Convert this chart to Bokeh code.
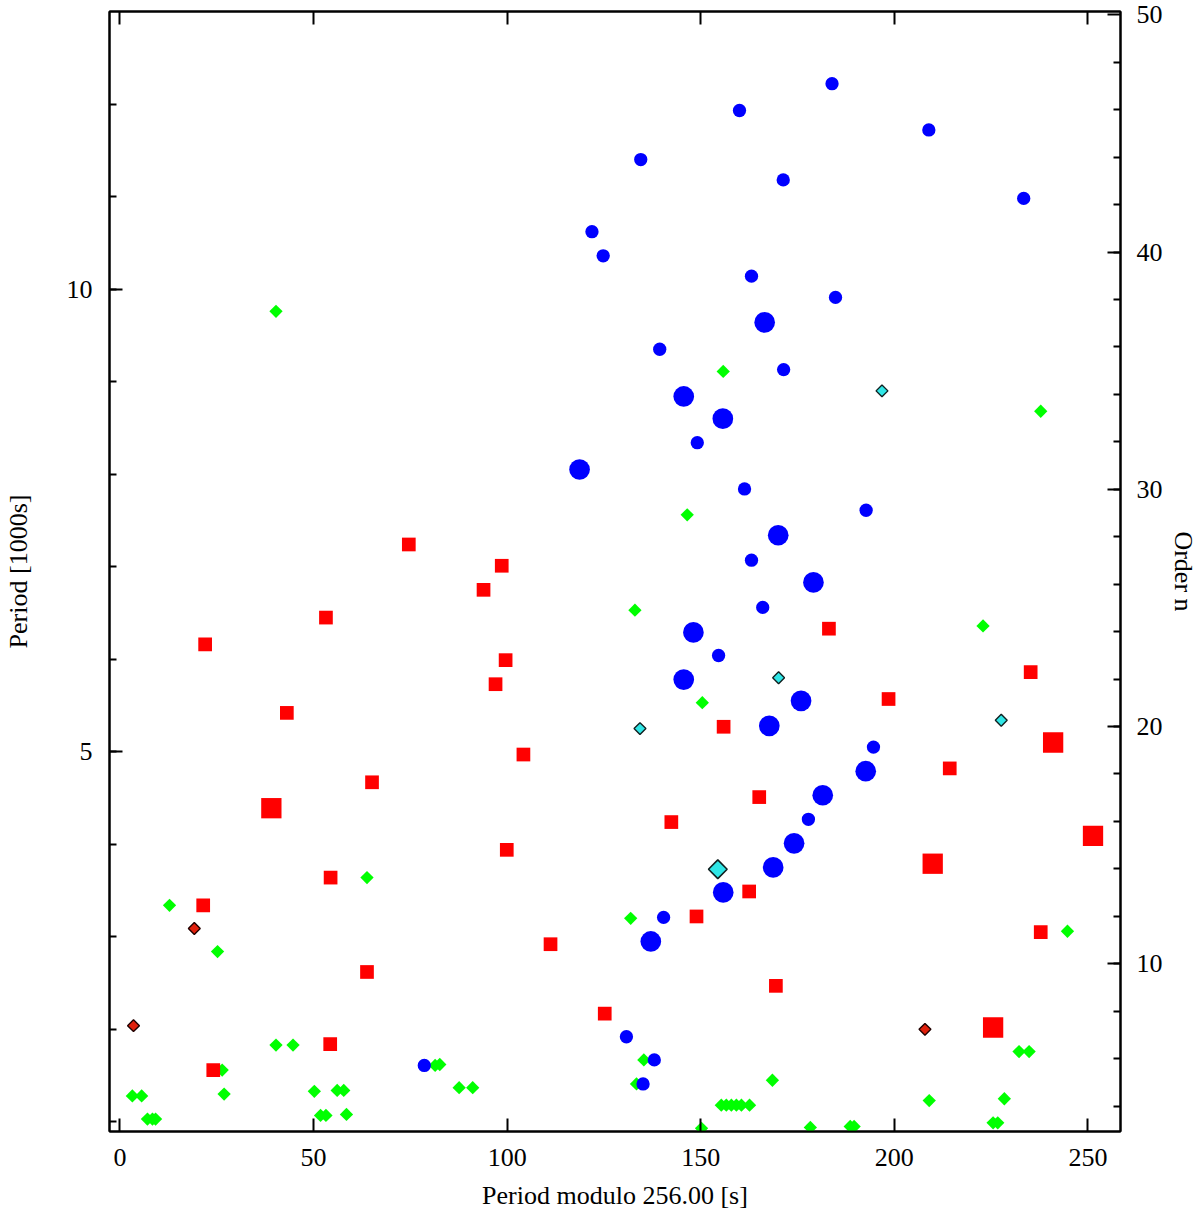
import numpy as np
from bokeh.plotting import figure
from bokeh.models import Range1d, LinearAxis, FixedTicker
from bokeh.embed import file_html
from bokeh.resources import INLINE

# ---------------- data (x: period modulo 256 s, y: period in 1000 s) ----------------
blue_small_x = [160.0, 134.5, 171.3, 121.9, 124.8, 163.1, 139.4, 171.4, 183.9, 208.9, 233.4, 184.8,
                149.1, 161.3, 163.1, 166.0, 154.6, 192.7, 194.6, 177.8, 140.4, 130.8, 138.0, 135.1, 78.6]
blue_small_y = [11.93, 11.40, 11.18, 10.62, 10.36, 10.14, 9.35, 9.13, 12.22, 11.72, 10.98, 9.91,
                8.34, 7.84, 7.07, 6.56, 6.04, 7.61, 5.05, 4.27, 3.21, 1.92, 1.67, 1.41, 1.61]

blue_big_x = [166.5, 145.6, 155.7, 118.7, 170.0, 179.1, 148.1, 145.6, 175.9, 167.7, 192.6, 181.5,
              174.1, 168.7, 155.8, 137.1]
blue_big_y = [9.64, 8.84, 8.60, 8.05, 7.34, 6.83, 6.29, 5.78, 5.55, 5.28, 4.79, 4.53,
              4.01, 3.75, 3.48, 2.95]

red_small_x = [74.6, 53.2, 22.0, 43.1, 98.6, 93.9, 99.6, 97.0, 104.2, 65.1, 54.4, 21.5, 63.8, 54.3,
               24.1, 99.9, 111.2, 125.2, 142.4, 148.9, 155.9, 162.5, 165.1, 169.4, 183.1, 198.5,
               214.3, 235.2, 237.8]
red_small_y = [7.24, 6.45, 6.16, 5.42, 7.01, 6.75, 5.99, 5.73, 4.97, 4.67, 3.64, 3.34, 2.62, 1.84,
               1.56, 3.94, 2.92, 2.17, 4.24, 3.22, 5.27, 3.49, 4.51, 2.47, 6.33, 5.57,
               4.82, 5.86, 3.05]

red_big_x = [39.1, 209.9, 241.0, 251.3, 225.5]
red_big_y = [4.39, 3.79, 5.10, 4.09, 2.02]

green_x = [40.3, 155.8, 237.8, 146.5, 133.0, 222.9, 150.4, 12.8, 63.8, 25.2, 131.9, 244.7,
           40.3, 44.7, 26.4, 81.4, 82.6, 3.2, 5.6, 26.9, 50.2, 56.1, 57.8, 7.1, 8.4, 9.2,
           51.8, 53.2, 58.5, 135.3, 133.4, 87.6, 91.1, 168.5, 155.3, 156.6, 157.9, 159.2,
           160.5, 162.6, 150.2, 209.0, 228.4, 225.5, 226.7, 178.3, 188.6, 189.6, 232.2, 234.8]
green_y = [9.76, 9.11, 8.68, 7.56, 6.53, 6.36, 5.53, 3.34, 3.64, 2.84, 3.20, 3.06,
           1.83, 1.83, 1.56, 1.61, 1.62, 1.28, 1.28, 1.30, 1.33, 1.34, 1.34, 1.03, 1.03, 1.03,
           1.07, 1.07, 1.08, 1.67, 1.41, 1.37, 1.37, 1.45, 1.18, 1.18, 1.18, 1.18,
           1.18, 1.18, 0.93, 1.23, 1.25, 0.99, 0.99, 0.94, 0.95, 0.95, 1.76, 1.76]

cyan_small_x = [196.8, 170.1, 134.3, 227.6]
cyan_small_y = [8.90, 5.80, 5.25, 5.34]
cyan_big_x = [154.4]
cyan_big_y = [3.73]

reddia_x = [19.2, 3.5, 207.9]
reddia_y = [3.09, 2.04, 2.00]

x_ticks = [0, 50, 100, 150, 200, 250]
p_ticks = [5, 10]
p_minor = list(range(1, 13))
n_ticks = [10, 20, 30, 40, 50]
n_minor = list(range(4, 50, 2))

FONT = "Liberation Serif"
FS = "26px"

p = figure(width=1200, height=1215,
           x_range=Range1d(-2.7, 258.4), y_range=Range1d(0.896, 13.0),
           output_backend="svg", toolbar_location=None,
           x_axis_location=None, y_axis_location=None,
           min_border_left=107, min_border_top=11, min_border_right=80, min_border_bottom=84)
p.extra_y_ranges = {"n": Range1d(2.93, 50.14)}
p.xgrid.visible = False
p.ygrid.visible = False
p.outline_line_color = "black"
p.outline_line_width = 2
p.background_fill_color = "white"
p.border_fill_color = "white"


def style(ax):
    ax.axis_line_width = 2
    ax.axis_line_color = "black"
    ax.major_tick_in = 13
    ax.major_tick_out = 0
    ax.minor_tick_in = 7
    ax.minor_tick_out = 0
    ax.major_tick_line_width = 2
    ax.minor_tick_line_width = 2
    ax.major_label_text_font = FONT
    ax.major_label_text_font_size = FS
    ax.major_label_text_color = "black"
    ax.axis_label_text_font = FONT
    ax.axis_label_text_font_size = FS
    ax.axis_label_text_font_style = "normal"
    ax.axis_label_text_color = "black"


bottom = LinearAxis(ticker=FixedTicker(ticks=x_ticks, minor_ticks=[]),
                    axis_label="Period modulo 256.00 [s]")
style(bottom)
bottom.major_label_standoff = 17
bottom.axis_label_standoff = 12
p.add_layout(bottom, "below")

top = LinearAxis(ticker=FixedTicker(ticks=x_ticks, minor_ticks=[]))
style(top)
top.major_label_overrides = {t: "" for t in x_ticks}
top.major_label_text_font_size = "1px"
top.major_label_standoff = 0
p.add_layout(top, "above")

left = LinearAxis(ticker=FixedTicker(ticks=p_ticks, minor_ticks=p_minor),
                  axis_label="Period [1000s]")
style(left)
left.major_label_standoff = 17
left.axis_label_standoff = 31
p.add_layout(left, "left")

right = LinearAxis(y_range_name="n", ticker=FixedTicker(ticks=n_ticks, minor_ticks=n_minor),
                   axis_label="Order n")
style(right)
right.major_label_standoff = 16
right.axis_label_standoff = 3
p.add_layout(right, "right")

ROT = np.pi / 4

p.scatter(green_x, green_y, marker="square", angle=ROT, size=9.4,
          fill_color="#00ff00", line_color=None)
p.scatter(red_small_x, red_small_y, marker="square", size=13.7,
          fill_color="#ff0000", line_color=None)
p.scatter(red_big_x, red_big_y, marker="square", size=20.3,
          fill_color="#ff0000", line_color=None)
p.scatter(blue_small_x, blue_small_y, marker="circle", size=13.3,
          fill_color="#0000ff", line_color=None)
p.scatter(blue_big_x, blue_big_y, marker="circle", size=20.7,
          fill_color="#0000ff", line_color=None)
p.scatter(cyan_small_x, cyan_small_y, marker="square", angle=ROT, size=8.4,
          fill_color="#30e6e6", line_color="#102020", line_width=1.4)
p.scatter(cyan_big_x, cyan_big_y, marker="square", angle=ROT, size=13.2,
          fill_color="#30e6e6", line_color="#102020", line_width=1.6)
p.scatter(reddia_x, reddia_y, marker="square", angle=ROT, size=8.4,
          fill_color="#e0200c", line_color="#200000", line_width=1.4)

open("out.html", "w").write(file_html(p, INLINE))
